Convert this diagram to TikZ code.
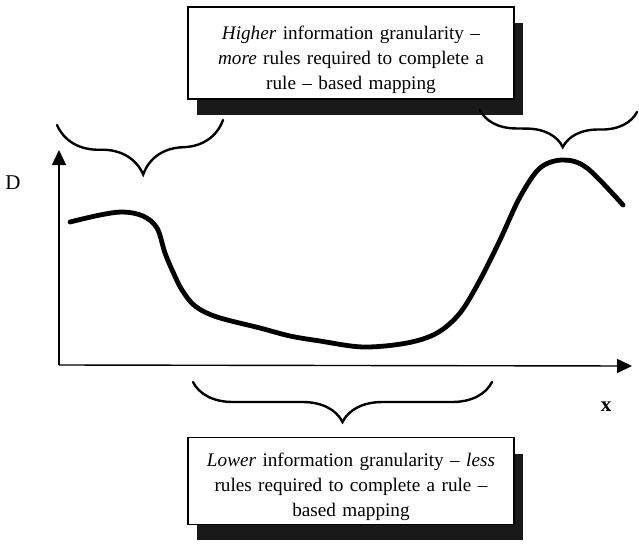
\documentclass[tikz,border=0pt]{standalone}
\usepackage{fontspec}
\setmainfont{Liberation Serif}
\usetikzlibrary{arrows.meta,decorations.pathreplacing,shadows}
\tikzset{
  notebox/.style={draw=black, line width=1.1pt, fill=white, minimum width=326pt, text width=312pt,
    align=center, font=\fontsize{19.2}{25}\selectfont,
    drop shadow={shadow xshift=9pt, shadow yshift=-16pt, fill=black!90, opacity=1}},
  curlybrace/.style={decorate, decoration={brace, mirror, amplitude=#1}, line width=2.4pt, line cap=round},
  axisline/.style={line width=1.4pt, -{Triangle[length=15pt,width=14pt]}},
  datacurve/.style={line width=4.8pt, line cap=round},
  axislabel/.style={font=\fontsize{21}{24}\selectfont, inner sep=0pt},
}
\begin{document}
\begin{tikzpicture}[x=1pt, y=1pt]
  \useasboundingbox[fill=white] (0,0) rectangle (639,-543);
  % boxes
  \node[notebox, minimum height=92pt] (high) at (351,-53)
    {\rule{0pt}{27pt}\textit{Higher} information granularity --\\ \textit{more} rules required to complete a\\ rule -- based mapping};
  \node[notebox, minimum height=83pt] (low) at (351,-481)
    {\rule{0pt}{26pt}\textit{Lower} information granularity -- \textit{less}\\ rules required to complete a rule --\\ based mapping};
  % axes
  \coordinate (origin) at (59,-365);
  \coordinate (ytop) at (59,-150);
  \coordinate (xend) at (632,-366);
  \draw[axisline] (origin) -- (ytop);
  \draw[axisline] (origin) -- (xend);
  \node[axislabel] (dlab) at (13,-183) {D};
  \node[axislabel] (xlab) at (606,-407) {\textbf{x}};
  % curve
  \draw[datacurve] plot[smooth, tension=0.55] coordinates {
    (70,-222) (100,-215) (123,-212) (143,-216) (157,-228) (165,-253) (173,-272)
    (182,-290) (195,-306) (217,-317) (260,-328) (290,-336) (320,-341) (363,-347)
    (407,-343) (437,-333) (460,-313) (480,-280) (500,-240) (520,-197) (540,-168)
    (563,-160) (587,-168) (623,-205)};
  % braces
  \coordinate (b1l) at (57,-125);
  \coordinate (b1r) at (223,-120);
  \draw[curlybrace=52pt, decoration={aspect=0.51}] (b1l) -- (b1r);
  \coordinate (b2l) at (480,-110);
  \coordinate (b2r) at (637,-112);
  \draw[curlybrace=36pt, decoration={aspect=0.53}] (b2l) -- (b2r);
  \coordinate (b3l) at (193,-382);
  \coordinate (b3r) at (492,-382);
  \draw[curlybrace=40pt] (b3l) -- (b3r);
\end{tikzpicture}
\end{document}
